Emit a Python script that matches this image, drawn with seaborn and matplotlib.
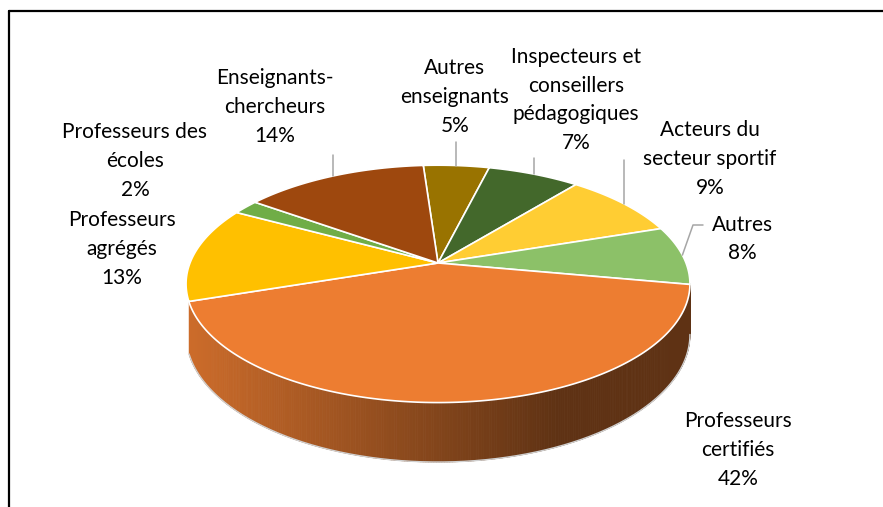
import numpy as np
import matplotlib.pyplot as plt
import seaborn as sns
from matplotlib.collections import PolyCollection
from matplotlib.colors import to_rgb

# Data (clockwise from 12 o'clock)
categories = ["Autres\nenseignants", "Inspecteurs et\nconseillers\npédagogiques",
              "Acteurs du\nsecteur sportif", "Autres", "Professeurs\ncertifiés",
              "Professeurs\nagrégés", "Professeurs des\nécoles", "Enseignants-\nchercheurs"]
shares = [5, 7, 9, 8, 42, 13, 2, 14]
colors = ["#997300", "#43682B", "#FFCD33", "#8CC168", "#ED7D31",
          "#FFC000", "#70AD47", "#9E480E"]

# label block centres (pixels)
label_pos = [(455, 97), (576, 100), (710, 159), (742, 239), (738, 450),
             (122, 249), (135, 161), (275, 107)]

sns.set_theme(style="white")
plt.rcParams['font.family'] = ['Lato', 'DejaVu Sans']

fig = plt.figure(figsize=(8.83, 5.07), dpi=100)
ax = fig.add_axes([0, 0, 1, 1])
ax.set_xlim(0, 883)
ax.set_ylim(507, 0)
ax.axis('off')

# simple perspective projection of a tilted disc
cx, cy = 438, 263
rx, ry, k, depth = 248, 115, 0.176, 49


def proj(t, z=0.0):
    X, Y = np.cos(t), np.sin(t)
    s = 1 / (1 + k * Y)
    return cx + rx * X * s, cy - ry * Y * s + z * depth * s


def visible(t):
    # front part of the rim (left silhouette sits a bit lower, as in Excel)
    lim = k if np.cos(t) > 0 else 0.32
    return np.sin(t) < -lim


total = sum(shares)
start = np.deg2rad(94)
edges = start - 2 * np.pi * np.concatenate([[0], np.cumsum(shares)]) / total

# side walls (front arc only) with a left-to-right shading gradient
xl, xr = cx - rx, cx + rx
polys, fcols = [], []
for i, c in enumerate(colors):
    ts = np.linspace(edges[i], edges[i + 1], 300)
    base = np.array(to_rgb(c))
    for t0, t1 in zip(ts[:-1], ts[1:]):
        if not visible((t0 + t1) / 2):
            continue
        x0, y0 = proj(t0)
        x1, y1 = proj(t1)
        x0b, y0b = proj(t0, 1)
        x1b, y1b = proj(t1, 1)
        u = ((x0 + x1) / 2 - xl) / (xr - xl)
        f = max(0.4, 0.86 - 0.62 * u)
        polys.append([(x0, y0), (x1, y1), (x1b, y1b), (x0b, y0b)])
        fcols.append(base * f)
ax.add_collection(PolyCollection(polys, facecolors=fcols, edgecolors=fcols,
                                 linewidths=0.6, zorder=1))

# bottom outline
tb = np.linspace(np.pi + np.arcsin(0.32), 2 * np.pi - np.arcsin(k), 300)
bx, by = proj(tb, 1)
ax.plot(bx, by, color="#D0D0D0", lw=1.0, zorder=2)

# top faces
for i, c in enumerate(colors):
    ts = np.linspace(edges[i], edges[i + 1], 200)
    px, py = proj(ts)
    ax.fill(np.r_[cx, px], np.r_[cy, py], facecolor=c, edgecolor="white",
            lw=1.2, zorder=3)

# labels
for i, (lab, (lx, ly)) in enumerate(zip(categories, label_pos)):
    pct = f"{round(shares[i] / total * 100)}%"
    ax.text(lx, ly, f"{lab}\n{pct}", ha="center", va="center",
            multialignment="center", fontsize=15, color="#000000",
            linespacing=1.55, zorder=5)

# leader lines
lead_col = "#A6A6A6"
mids = (edges[:-1] + edges[1:]) / 2
for i, ytop in [(0, 142), (1, 158), (2, 160), (7, 155)]:
    mx, my = proj(mids[i])
    ax.plot([mx, mx], [my, ytop], color=lead_col, lw=1.1, zorder=4)
mx, my = proj(mids[3])
ax.plot([mx, 693, 703], [my, 225, 225], color=lead_col, lw=1.1, zorder=4)

# chart frame (cropped at right and bottom)
ax.plot([9, 883], [11, 11], color="black", lw=1.6, zorder=6, clip_on=False)
ax.plot([9, 9], [11, 507], color="black", lw=1.6, zorder=6, clip_on=False)

fig.savefig("out.png", dpi=100)
